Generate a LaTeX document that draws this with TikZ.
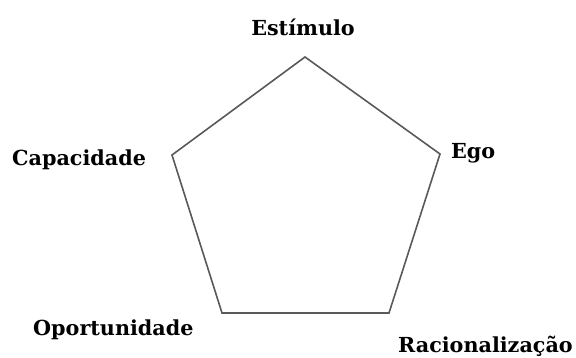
\documentclass[tikz,border=0pt]{standalone}
\usepackage{fontspec}
\setmainfont{DejaVu Serif}
\begin{document}
\begin{tikzpicture}[x=1pt,y=1pt,
  lbl/.style={font=\bfseries\fontsize{20.7}{24}\selectfont, inner sep=0pt, text=black},
  edge/.style={draw=black!65, line width=1.6pt, line join=miter}]
\useasboundingbox (0,0) rectangle (576,358);
\coordinate (T) at (305,301);
\coordinate (R) at (440,204);
\coordinate (BR) at (389,45);
\coordinate (BL) at (222,45);
\coordinate (L) at (172,203);
\draw[edge] (T) -- (R) -- (BR) -- (BL) -- (L) -- cycle;
\node[lbl, anchor=base] (est) at (303,322) {Estímulo};
\node[lbl, anchor=base west] (cap) at (12,192) {Capacidade};
\node[lbl, anchor=base west] (ego) at (451,199) {Ego};
\node[lbl, anchor=base west] (opo) at (33,22) {Oportunidade};
\node[lbl, anchor=base west] (rac) at (398,5) {Racionalização};
\end{tikzpicture}
\end{document}
